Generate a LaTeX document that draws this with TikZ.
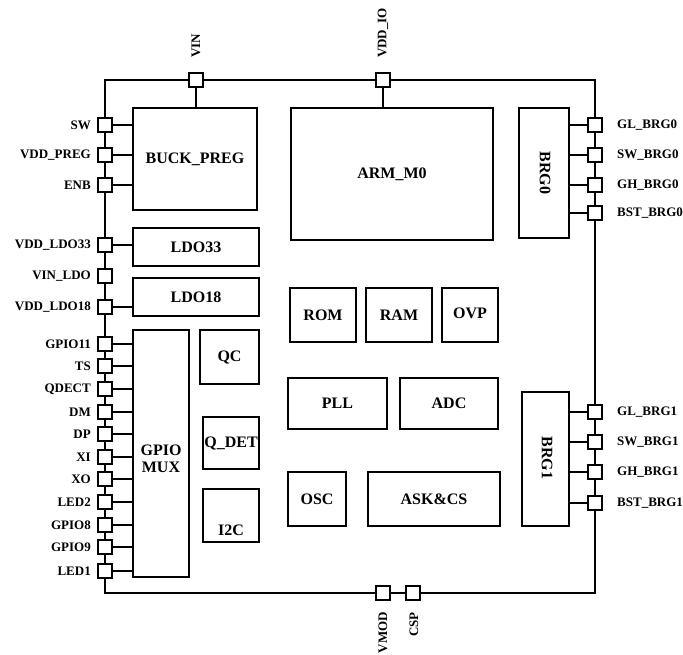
\documentclass[tikz,border=0pt]{standalone}
\usepackage{fontspec}
\setmainfont{Liberation Serif}
\begin{document}
\begin{tikzpicture}[x=1pt,y=-1pt,
  pin/.style={draw, fill=white, minimum size=14pt, inner sep=0pt, line width=1.4pt},
  blk/.style={draw, line width=1.2pt, inner sep=0pt, font=\bfseries\fontsize{16}{17}\selectfont, align=center},
  blktxt/.style={inner sep=0pt, font=\bfseries\fontsize{16}{17}\selectfont, align=center},
  plbl/.style={inner sep=0pt, font=\bfseries\fontsize{13}{13}\selectfont},
  wire/.style={line width=1.2pt}]
\useasboundingbox (0,0) rectangle (683,655);
% frame
\coordinate (tl) at (105,80);
\coordinate (br) at (595,593);
\draw[wire] (tl) rectangle (br);
% blocks
\node[blk, minimum width=124pt, minimum height=102pt] (buck) at (195,159) {BUCK\_PREG};
\node[blk, minimum width=202pt, minimum height=132pt] (arm) at (392,174) {ARM\_M0};
\node[blk, minimum width=50pt, minimum height=130pt] (brg0) at (544,173) {};
\node[blktxt, rotate=-90] (brg0t) at (545,173) {BRG0};
\node[blk, minimum width=126pt, minimum height=38pt] (ldo33) at (196,247) {LDO33};
\node[blk, minimum width=126pt, minimum height=38pt] (ldo18) at (196,297) {LDO18};
\node[blk, minimum width=56pt, minimum height=247pt] (gpio) at (161,453.5) {};
\node[blktxt] (gpiot) at (161,459) {GPIO\\MUX};
\node[blk, minimum width=59pt, minimum height=54pt] (qc) at (229.5,357) {QC};
\node[blk, minimum width=56pt, minimum height=52pt] (qdet) at (231,443) {Q\_DET};
\node[blk, minimum width=56pt, minimum height=53pt] (i2c) at (231,515.5) {};
\node[blktxt] (i2ct) at (231,530) {I2C};
\node[blk, minimum width=66pt, minimum height=54pt] (rom) at (323,315) {ROM};
\node[blk, minimum width=66pt, minimum height=54pt] (ram) at (399,315) {RAM};
\node[blk, minimum width=56pt, minimum height=54pt] (ovp) at (470,315) {};
\node[blktxt] (ovpt) at (470,313) {OVP};
\node[blk, minimum width=99pt, minimum height=51pt] (pll) at (337.5,403.5) {PLL};
\node[blk, minimum width=98pt, minimum height=51pt] (adc) at (449,403.5) {ADC};
\node[blk, minimum width=47pt, minimum height=134pt] (brg1) at (545.5,459) {};
\node[blktxt, rotate=-90] (brg1t) at (547,458) {BRG1};
\node[blk, minimum width=58pt, minimum height=54pt] (osc) at (317,499) {OSC};
\node[blk, minimum width=132pt, minimum height=54pt] (ask) at (434,499) {ASK\&CS};
% top pins
\node[pin] (pVIN) at (196,80) {};
\node[pin] (pVDDIO) at (383,80) {};
\draw[wire] (pVIN.south) -- (buck.north -| pVIN);
\draw[wire] (pVDDIO.south) -- (arm.north -| pVDDIO);
\node[plbl, rotate=90, anchor=west] (lVIN) at (196,58) {VIN};
\node[plbl, rotate=90, anchor=west] (lVDDIO) at (383,58) {VDD\_IO};
% bottom pins
\node[pin] (pVMOD) at (383,593) {};
\node[pin] (pCSP) at (413,593) {};
\node[plbl, rotate=90, anchor=east] (lVMOD) at (383,612) {VMOD};
\node[plbl, rotate=90, anchor=east] (lCSP) at (414,612) {CSP};
% left pins
\foreach \n/\y/\t/\b in {SW/125/SW/buck, VDDPREG/155/VDD\_PREG/buck, ENB/185/ENB/buck,
  VDDLDO33/245/VDD\_LDO33/ldo33, VDDLDO18/307/VDD\_LDO18/ldo18,
  GPIOa/344/GPIO11/gpio, TS/366/TS/gpio, QDECT/389/QDECT/gpio, DM/412/DM/gpio,
  DP/434/DP/gpio, XI/457/XI/gpio, XO/479/XO/gpio, LEDb/502/LED2/gpio,
  GPIOb/525/GPIO8/gpio, GPIOc/547/GPIO9/gpio, LEDa/571/LED1/gpio}{
  \node[pin] (p\n) at (105,\y) {};
  \draw[wire] (p\n.east) -- (\b.west |- p\n);
  \node[plbl, anchor=east] (l\n) at (91,\y) {\t};
}
\node[pin] (pVINLDO) at (105,276) {};
\node[plbl, anchor=east] (lVINLDO) at (91,276) {VIN\_LDO};
% right pins
\foreach \n/\y/\t/\b in {GLa/125/GL\_BRG0/brg0, SWa/155/SW\_BRG0/brg0, GHa/185/GH\_BRG0/brg0, BSTa/213/BST\_BRG0/brg0,
  GLb/412/GL\_BRG1/brg1, SWb/442/SW\_BRG1/brg1, GHb/472/GH\_BRG1/brg1, BSTb/503/BST\_BRG1/brg1}{
  \node[pin] (p\n) at (595,\y) {};
  \draw[wire] (\b.east |- p\n) -- (p\n.west);
  \node[plbl, anchor=west] (l\n) at (617,\y) {\t};
}
\end{tikzpicture}
\end{document}
